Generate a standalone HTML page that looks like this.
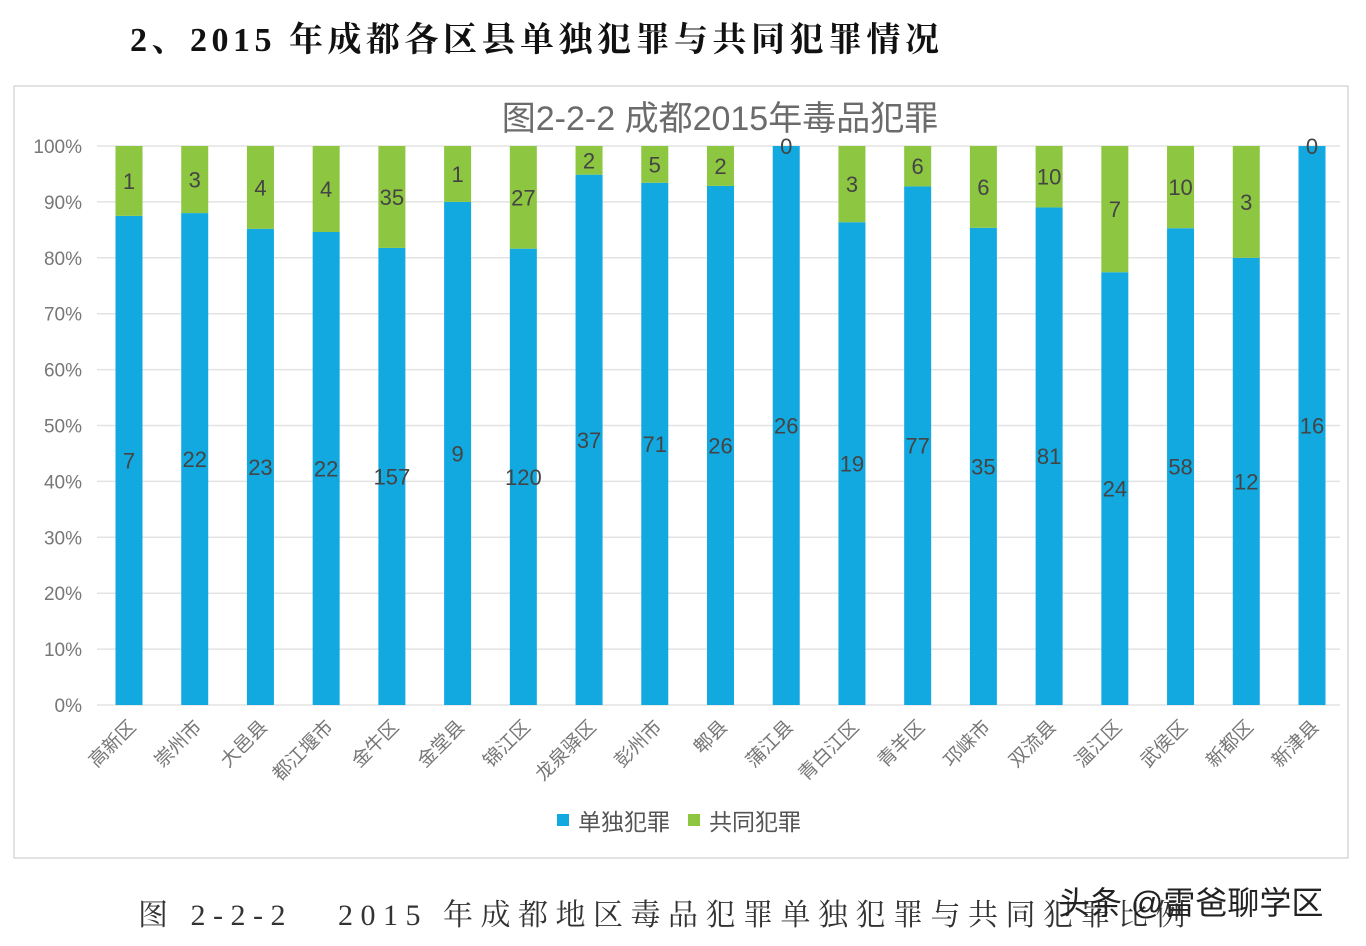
<!DOCTYPE html>
<html><head><meta charset="utf-8">
<style>
body{margin:0;width:1366px;height:946px;background:#fff;overflow:hidden;font-family:"Liberation Sans","Noto Sans CJK SC",sans-serif;}
#page-title{position:absolute;left:130px;top:12px;font-family:"Liberation Serif","Noto Serif CJK SC",serif;font-size:34px;font-weight:bold;color:#111;letter-spacing:4.5px;}
#caption{position:absolute;left:138px;top:890px;font-family:"Liberation Serif","Noto Serif CJK SC",serif;font-size:30px;color:#333;letter-spacing:7.5px;white-space:pre;}
#watermark{position:absolute;left:1058px;top:878px;font-size:32px;color:#222;}
svg{position:absolute;left:0;top:0;}
</style></head>
<body>
<div id="page-title">2、2015 年成都各区县单独犯罪与共同犯罪情况</div>
<svg id="chart" width="1366" height="946"></svg>
<div id="caption">图 2-2-2   2015 年成都地区毒品犯罪单独犯罪与共同犯罪比例</div>
<div id="watermark">头条 @雷爸聊学区</div>
<script>
const categories=["高新区","崇州市","大邑县","都江堰市","金牛区","金堂县","锦江区","龙泉驿区","彭州市","郫县","蒲江县","青白江区","青羊区","邛崃市","双流县","温江区","武侯区","新都区","新津县"];
const singleCrime=[7,22,23,22,157,9,120,37,71,26,26,19,77,35,81,24,58,12,16];
const jointCrime=[1,3,4,4,35,1,27,2,5,2,0,3,6,6,10,7,10,3,0];
const yTicks=[0,10,20,30,40,50,60,70,80,90,100];

const NS="http://www.w3.org/2000/svg";
const svg=document.getElementById('chart');
function mk(t,a,p){const e=document.createElementNS(NS,t);for(const k in a)e.setAttribute(k,a[k]);(p||svg).appendChild(e);return e;}
const y0=705,y1=146,xL=97,xR=1340;
const yS=v=>y0-(y0-y1)*v/100;
const step=(1312-129)/18;
const xS=i=>129+i*step;
const bw=27;

const frame=mk('rect',{x:14,y:86,width:1334,height:772,fill:'#fff',stroke:'#d9d9d9','stroke-width':1.5});


const ct=mk('text',{x:720,y:130,'text-anchor':'middle','font-size':34,fill:'#6b6b6b'});
ct.textContent='图2-2-2 成都2015年毒品犯罪';



yTicks.forEach(t=>{
  const g=mk('line',{x1:xL,x2:xR,y1:yS(t),y2:yS(t),stroke:'#e3e3e3','stroke-width':1.5});
  
  
  const l=mk('text',{x:82,y:yS(t)+7,'text-anchor':'end','font-size':19,fill:'#777'});
  l.textContent=t+'%';
  
  
});

categories.forEach((c,i)=>{
  const tot=singleCrime[i]+jointCrime[i];
  const ps=singleCrime[i]/tot*100;
  const x=xS(i)-bw/2;
  const b=mk('rect',{x:x,y:yS(ps),width:bw,height:y0-yS(ps),fill:'#12a9e1'});
  
  
  const g=mk('rect',{x:x,y:yS(100),width:bw,height:yS(ps)-yS(100),fill:'#8dc641'});
  
  
  const t1=mk('text',{x:xS(i),y:(yS(ps)+y0)/2+8,'text-anchor':'middle','font-size':22,fill:'#444'});
  t1.textContent=singleCrime[i];
  
  
  const t2=mk('text',{x:xS(i),y:Math.max((yS(ps)+yS(100))/2+8,yS(100)+6),'text-anchor':'middle','font-size':22,fill:'#444'});
  t2.textContent=jointCrime[i];
  
  
  const xl=mk('text',{x:xS(i)+8,y:728,'text-anchor':'end','font-size':19,fill:'#777',transform:`rotate(-45 ${xS(i)+8} 728)`});
  xl.textContent=c;
  
  
});

const lg=mk('g',{});


const s1=mk('rect',{x:557,y:814,width:12,height:12,fill:'#12a9e1'},lg);


const l1=mk('text',{x:578,y:830,'font-size':23,fill:'#555'},lg);
l1.textContent='单独犯罪';


const s2=mk('rect',{x:688,y:814,width:12,height:12,fill:'#8dc641'},lg);


const l2=mk('text',{x:709,y:830,'font-size':23,fill:'#555'},lg);
l2.textContent='共同犯罪';


</script>
</body></html>
